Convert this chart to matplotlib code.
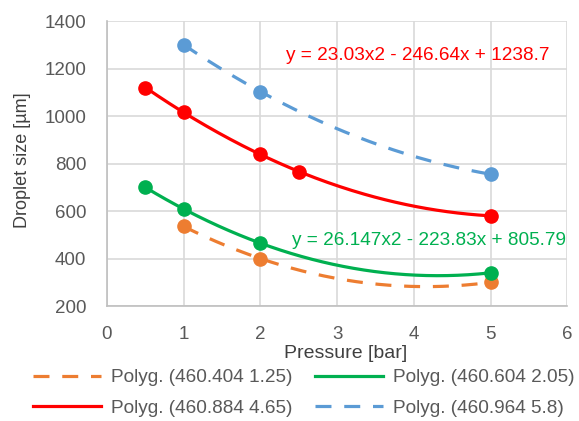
import numpy as np
from matplotlib import pyplot as plt

plt.rcParams['font.family'] = ['Liberation Sans', 'DejaVu Sans']

# pressure [bar] and droplet size [um] for each nozzle series
x_orange = [1, 2, 5]
y_orange = [535, 400, 300]
x_green = [0.5, 1, 2, 5]
y_green = [700, 608, 465, 340]
x_red = [0.5, 1, 2, 2.5, 5]
y_red = [1120, 1015, 840, 765, 580]
x_blue = [1, 2, 5]
y_blue = [1300, 1103, 755]

labels = ['Polyg. (460.404 1.25)', 'Polyg. (460.604 2.05)',
          'Polyg. (460.884 4.65)', 'Polyg. (460.964 5.8)']
eq_red = 'y = 23.03x2 - 246.64x + 1238.7'
eq_green = 'y = 26.147x2 - 223.83x + 805.79'

ORANGE = '#ED7D31'
GREEN = '#00B050'
RED = '#FF0000'
BLUE = '#5B9BD5'
TXT = '#595959'

fig = plt.figure(figsize=(5.79, 4.21), dpi=100)
ax = fig.add_axes([0.1848, 0.273, 0.7952, 0.677])

series = [
    (x_orange, y_orange, ORANGE, (0, (5, 4)), labels[0]),
    (x_green, y_green, GREEN, '-', labels[1]),
    (x_red, y_red, RED, '-', labels[2]),
    (x_blue, y_blue, BLUE, (0, (5, 4)), labels[3]),
]

handles = {}
for xs, ys, col, ls, lab in series:
    # quadratic trendline, as in the spreadsheet
    c = np.polyfit(xs, ys, 2)
    xx = np.linspace(min(xs), max(xs), 200)
    h, = ax.plot(xx, np.polyval(c, xx), color=col, lw=2.3, ls=ls, label=lab, zorder=3)
    handles[lab] = h
    ax.plot(xs, ys, 'o', color=col, ms=9.5, zorder=4)

ax.text(2.33, 1257, eq_red, color=RED, fontsize=13.7, va='center', ha='left')
ax.text(2.41, 476, eq_green, color=GREEN, fontsize=13.7, va='center', ha='left')

ax.set_xlim(0, 6)
ax.set_ylim(200, 1400)
ax.set_xticks(range(0, 7))
ax.set_yticks(range(200, 1401, 200))
ax.grid(True, color='#D9D9D9', lw=1.2)
ax.set_axisbelow(True)
for s in ['top', 'right']:
    ax.spines[s].set_visible(False)
for s in ['left', 'bottom']:
    ax.spines[s].set_color('#BFBFBF')
    ax.spines[s].set_linewidth(1.2)
ax.tick_params(length=0, labelsize=13.5, labelcolor=TXT)
ax.tick_params(axis='y', pad=15)
ax.tick_params(axis='x', pad=14)

ax.set_xlabel('Pressure [bar]', fontsize=14, color='#404040')
ax.set_ylabel('Droplet size [\u00b5m]', fontsize=13, color='#404040')
ax.xaxis.set_label_coords(0.519, -0.137)
ax.yaxis.set_label_coords(-0.165, 0.512)

order = [labels[0], labels[2], labels[1], labels[3]]
fig.legend([handles[l] for l in order], order, ncol=2, loc='center',
           bbox_to_anchor=(303.5 / 579, 1 - 393 / 421), frameon=False,
           fontsize=13.7, handlelength=3.6, columnspacing=1.2,
           handletextpad=0.5, labelspacing=0.7, labelcolor=TXT)

fig.savefig('out.png', dpi=100)
